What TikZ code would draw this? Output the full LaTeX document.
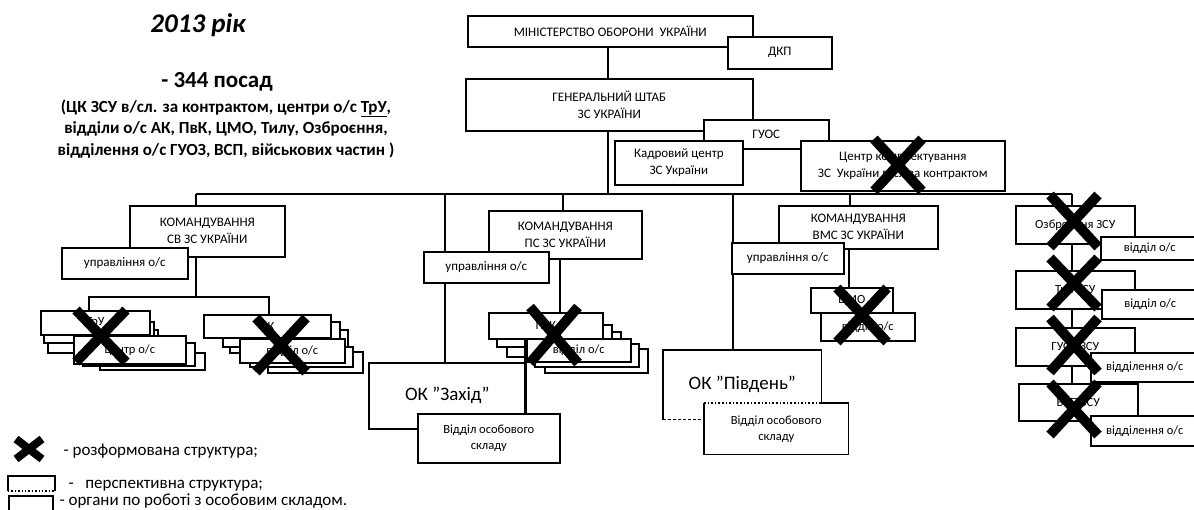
\documentclass[tikz,border=0pt]{standalone}
\usepackage{fontspec}
\setmainfont{Carlito}
\usetikzlibrary{calc}
\pgfdeclarelayer{bg}
\pgfsetlayers{bg,main}
\newcommand\obox[7][]{\node[box,anchor=north west,minimum width={(#5-#3)*1pt},minimum height={(#6-#4)*1pt},#1] (#2) at (#3,#4) {#7};}
\newcommand\crossmk[5][10pt]{\draw[line width=#1] (#2-#4,#3-#5) -- (#2+#4,#3+#5) (#2+#4,#3-#5) -- (#2-#4,#3+#5);}
\newcommand\copybox[4]{\draw[box] (#1,#2) rectangle (#3,#4);}
\begin{document}
\begin{tikzpicture}[x=1pt,y=-1pt,
  box/.style={draw, line width=1.6pt, fill=white, inner sep=0pt, align=center},
  conn/.style={line width=1.4pt},
  bus/.style={line width=2pt},
  t13/.style={font=\fontsize{13}{17}\selectfont},
  t12/.style={font=\fontsize{12.5}{16}\selectfont},
  tok/.style={font=\fontsize{19}{22}\selectfont}]
\useasboundingbox (0,0) rectangle (1194,509);

% ---- heading text
\node[anchor=base, font=\fontsize{27}{30}\selectfont\bfseries\itshape] (title) at (198,32) {2013 рік};
\node[anchor=base, font=\fontsize{23}{26}\selectfont\bfseries] (count) at (217,87) {- 344 посад};
\node[anchor=base, font=\fontsize{17}{20}\selectfont\bfseries] (note1) at (226,112) {(ЦК ЗСУ в/сл. за контрактом, центри о/с \underline{ТрУ},};
\node[anchor=base, font=\fontsize{17}{20}\selectfont\bfseries] (note2) at (226,133) {відділи о/с АК, ПвК, ЦМО, Тилу, Озброєння,};
\node[anchor=base, font=\fontsize{17}{20}\selectfont\bfseries] (note3) at (226,155) {відділення о/с ГУОЗ, ВСП, військових частин )};

% ---- top
\obox[t13]{min}{467}{15}{752}{46}{МІНІСТЕРСТВО ОБОРОНИ\ \ УКРАЇНИ}
\obox[t13]{dkp}{727}{36}{831}{68}{ДКП}
\obox[t13]{gsh}{465}{78}{752}{130}{ГЕНЕРАЛЬНИЙ ШТАБ\\ЗС УКРАЇНИ}
\obox[t13]{guos}{703}{119}{828}{148}{ГУОС}
\obox[t13]{kadr}{614}{140}{742}{184}{Кадровий центр\\ЗС України}
\obox[t13]{tsk}{800}{140}{1004}{190}{Центр комплектування\\ЗС\ \ України в/сл за контрактом}

% ---- commands
\obox[t13]{sv}{129}{205}{284}{256}{КОМАНДУВАННЯ\\СВ ЗС УКРАЇНИ}
\obox[t13]{svu}{61}{247}{187}{278}{управління о/с}
\obox[t13]{ps}{488}{210}{641}{258}{КОМАНДУВАННЯ\\ПС ЗС УКРАЇНИ}
\obox[t13]{psu}{423}{251}{548}{282}{управління о/с}
\obox[t13]{vms}{778}{205}{937}{248}{КОМАНДУВАННЯ\\ВМС ЗС УКРАЇНИ}
\obox[t13]{vmsu}{731}{242}{843}{273}{управління о/с}

% ---- SV stacks
\copybox{48}{330}{158}{353}
\copybox{44}{322}{154}{343}
\obox[t12]{svA}{40}{310}{149}{334}{ТрУ}
\copybox{100}{353}{205}{370}
\copybox{83}{343}{195}{366}
\obox[t12]{svB}{73}{335}{185}{363}{центр о/с}
\copybox{230}{330}{348}{353}
\copybox{223}{322}{340}{347}
\obox[t12]{svA2}{203}{314}{330}{337}{АК}
\copybox{268}{352}{363}{373}
\copybox{250}{347}{353}{367}
\obox[t12]{svB2}{239}{338}{344}{362}{відділ о/с}

% ---- PS stacks
\copybox{507}{332}{621}{357}
\copybox{497}{325}{612}{347}
\obox[t12]{psA}{488}{312}{602}{338}{ПвК}
\copybox{545}{349}{648}{373}
\copybox{535}{344}{639}{367}
\obox[t12]{psB}{526}{338}{630}{361}{відділ о/с}

% ---- VMS
\obox[t12]{cmo}{810}{287}{892}{312}{ЦМО}
\obox[t12]{cmov}{820}{312}{914}{340}{відділ о/с}

% ---- OK
\obox[tok]{zah}{368}{362}{525}{428}{ОК "Захід"}
\obox[t12]{zahv}{417}{413}{559}{462}{Відділ особового\\складу}
\obox[tok,draw=none]{piv}{663}{350}{820}{418}{ОК "Південь"}
\draw[line width=1.6pt] (piv.south west) -- (piv.north west) -- (piv.north east) -- (piv.south east);
\draw[line width=1.6pt, dashed, dash pattern=on 3pt off 2pt] (piv.south west) -- (piv.south east);
\obox[t12,draw=none]{pivv}{704}{403}{847}{453}{Відділ особового\\складу}
\draw[line width=1.6pt] (pivv.north east) -- (pivv.south east) -- (pivv.south west) -- (pivv.north west);
\draw[line width=1.6pt, dotted] (pivv.north west) -- (pivv.north -| piv.east);
\draw[line width=1.6pt] (pivv.north -| piv.east) -- (pivv.north east);

% ---- right column
\obox[t12]{oz}{1015}{205}{1134}{243}{Озброєння ЗСУ}
\obox[t12]{ozv}{1100}{236}{1198}{259}{відділ о/с}
\obox[t12]{tyl}{1015}{270}{1134}{308}{Тил ЗСУ}
\obox[t12]{tylv}{1101}{289}{1198}{318}{відділ о/с}
\obox[t12]{guoz}{1015}{327}{1134}{365}{ГУОЗ ЗСУ}
\obox[t12]{guozv}{1090}{352}{1198}{381}{відділення о/с}
\obox[t12]{vsp}{1018}{383}{1137}{420}{ВСП ЗСУ}
\obox[t12]{vspv}{1090}{415}{1198}{445}{відділення о/с}

% ---- connectors (behind boxes)
\begin{pgfonlayer}{bg}
\coordinate (bL) at (196,194);
\coordinate (bR) at (1072,194);
\coordinate (j608) at (608,194);
\coordinate (j445) at (445,194);
\coordinate (j563) at (563,194);
\coordinate (j733) at (733,194);
\coordinate (j850) at (850,194);
\draw[bus] (bL) -- (bR);
\draw[conn] (j608 |- min.south) -- (j608 |- gsh.north);
\draw[conn] (j608 |- gsh.south) -- (j608);
\draw[conn] (bL) -- (bL |- sv.north);
\draw[conn] (j445) -- (j445 |- zah.north);
\draw[conn] (j563) -- (j563 |- ps.north);
\draw[conn] (j733) -- (j733 |- piv.north);
\draw[conn] (j850) -- (j850 |- vms.north);
\draw[conn] (bR) -- (bR |- oz.north);
\draw[conn] (bR |- oz.south) -- (bR |- tyl.north);
\draw[conn] (bR |- tyl.south) -- (bR |- guoz.north);
\draw[conn] (bR |- guoz.south) -- (bR |- vsp.north);
\coordinate (sj) at (196,297);
\coordinate (sjL) at (89,297);
\coordinate (sjR) at (269,297);
\draw[conn] (sj |- sv.south) -- (sj);
\draw[conn] (sjL |- svA.north) -- (sjL) -- (sjR) -- (sjR |- svA2.north);
\coordinate (pj) at (560,0);
\draw[conn] (pj |- ps.south) -- (pj |- psA.north);
\coordinate (vj) at (849,0);
\draw[conn] (vj |- vms.south) -- (vj |- cmo.north);
\end{pgfonlayer}
\coordinate (pz) at (525,0);
\draw[conn] (pz |- psA.south) -- (pz |- zahv.north);

% ---- crosses
\crossmk{898}{165}{24}{26}
\crossmk{101}{336}{25}{26}
\crossmk{281}{345}{25}{27}
\crossmk{554}{335}{24}{28}
\crossmk{862}{315}{25}{27}
\crossmk{1074}{221}{24}{26}
\crossmk{1074}{283}{24}{25}
\crossmk{1074}{345}{24}{27}
\crossmk{1074}{409}{24}{26}

% ---- legend
\crossmk[8pt]{29}{449}{13}{10}
\node[anchor=base west, font=\fontsize{17}{20}\selectfont] (lg1) at (60,455) {- розформована структура;};
\draw[line width=1.6pt] (8,491) -- (8,476) -- (55,476) -- (55,491);
\draw[line width=1.4pt, dotted] (8,491) -- (55,491);
\node[anchor=base west, font=\fontsize{17}{20}\selectfont] (lg2) at (65,488) {-\ \ \ перспективна структура;};
\draw[line width=1.4pt] (9,515) -- (9,496) -- (53,496) -- (53,515);
\node[anchor=base west, font=\fontsize{17}{20}\selectfont] (lg3) at (56,505) {- органи по роботі з особовим складом.};
\end{tikzpicture}
\end{document}
